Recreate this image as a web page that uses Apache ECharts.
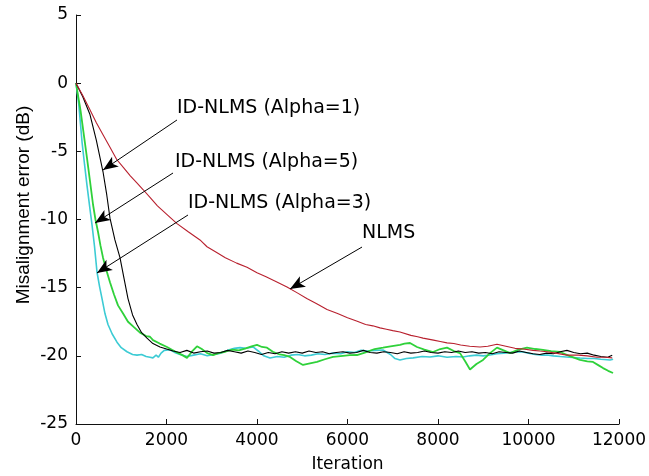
<!DOCTYPE html>
<html><head><meta charset="utf-8">
<script src="https://cdn.jsdelivr.net/npm/echarts@6/dist/echarts.min.js"></script>
<style>html,body{margin:0;padding:0;background:#fff}#c{width:649px;height:476px}</style>
</head><body><div id="c"></div>
<script>
// ---- Data (x = iteration, y = misalignment error in dB) ----
const xTicks = [0, 2000, 4000, 6000, 8000, 10000, 12000];
const yTicks = [-25, -20, -15, -10, -5, 0, 5];

const alpha3 = [[0,0],[60,-1.5],[133,-4.3],[190,-6.0],[243,-7.5],[300,-9.0],[354,-10.4],[410,-12.0],[464,-13.85],[520,-14.9],[575,-15.8],[640,-16.9],[707,-17.7],[800,-18.4],[906,-19.0],[1000,-19.4],[1127,-19.7],[1250,-19.9],[1348,-19.95],[1450,-19.9],[1550,-20.05],[1635,-20.1],[1700,-20.15],[1770,-19.95],[1820,-20.1],[1880,-19.8],[1950,-19.6],[2077,-19.55],[2180,-19.75],[2300,-19.9],[2450,-20.05],[2600,-19.95],[2750,-19.85],[2900,-20.0],[3050,-19.9],[3200,-19.8],[3350,-19.6],[3500,-19.45],[3624,-19.4],[3750,-19.45],[3912,-19.35],[4050,-19.7],[4150,-20.0],[4287,-20.16],[4450,-20.05],[4600,-20.1],[4750,-19.95],[4900,-19.9],[5050,-20.0],[5200,-19.95],[5350,-19.85],[5500,-19.9],[5680,-19.8],[5850,-19.85],[6000,-19.7],[6150,-19.75],[6300,-19.6],[6450,-19.65],[6600,-19.6],[6785,-19.57],[6950,-19.9],[7050,-20.2],[7160,-20.3],[7300,-20.2],[7450,-20.15],[7650,-20.05],[7823,-20.08],[8000,-20.0],[8200,-20.1],[8400,-20.05],[8553,-20.08],[8700,-20.0],[8850,-19.95],[9000,-20.0],[9150,-19.94],[9300,-19.85],[9450,-19.8],[9600,-19.75],[9750,-19.7],[9879,-19.72],[10000,-19.8],[10150,-19.9],[10300,-19.95],[10409,-19.94],[10550,-20.0],[10700,-20.05],[10900,-20.1],[11138,-20.16],[11300,-20.2],[11450,-20.2],[11600,-20.25],[11801,-20.3],[11870,-20.25]];

const alpha5 = [[0,0],[100,-2.0],[243,-5.5],[310,-7.2],[376,-8.9],[430,-10.0],[486,-10.9],[540,-11.9],[597,-12.8],[670,-13.7],[751,-14.6],[840,-15.5],[928,-16.3],[1040,-16.9],[1149,-17.5],[1280,-17.9],[1414,-18.3],[1550,-18.55],[1635,-18.6],[1701,-18.85],[1850,-19.1],[2011,-19.35],[2120,-19.55],[2232,-19.75],[2350,-19.95],[2453,-20.15],[2560,-19.7],[2674,-19.3],[2780,-19.5],[2900,-19.8],[3028,-19.95],[3150,-19.8],[3300,-19.7],[3450,-19.55],[3600,-19.6],[3750,-19.45],[3880,-19.3],[4000,-19.2],[4110,-19.35],[4221,-19.4],[4350,-19.7],[4500,-19.9],[4600,-19.95],[4729,-20.08],[4870,-20.4],[5017,-20.67],[5170,-20.55],[5326,-20.45],[5500,-20.25],[5680,-20.08],[5900,-20.0],[6050,-19.95],[6210,-19.94],[6400,-19.75],[6600,-19.5],[6785,-19.4],[6950,-19.3],[7160,-19.2],[7260,-19.1],[7381,-19.06],[7536,-19.35],[7700,-19.55],[7890,-19.72],[8050,-19.5],[8199,-19.4],[8350,-19.65],[8486,-19.8],[8600,-20.4],[8707,-21.0],[8850,-20.6],[8995,-20.3],[9150,-19.8],[9304,-19.4],[9450,-19.6],[9591,-19.8],[9780,-19.55],[9967,-19.4],[10150,-19.5],[10321,-19.57],[10500,-19.65],[10696,-19.72],[10900,-20.0],[11138,-20.3],[11300,-20.4],[11426,-20.45],[11550,-20.7],[11647,-20.9],[11760,-21.1],[11868,-21.26]];

const alpha1 = [[0,0],[150,-1.0],[309,-2.3],[450,-4.2],[597,-6.5],[680,-8.2],[751,-9.9],[860,-11.5],[972,-12.8],[1060,-14.3],[1149,-15.8],[1250,-17.0],[1348,-17.7],[1450,-18.3],[1569,-18.7],[1700,-19.1],[1856,-19.35],[2000,-19.5],[2144,-19.65],[2300,-19.75],[2450,-19.6],[2600,-19.8],[2750,-19.7],[2900,-19.65],[3050,-19.8],[3200,-19.75],[3350,-19.6],[3500,-19.7],[3650,-19.8],[3800,-19.65],[3950,-19.75],[4100,-19.9],[4250,-19.75],[4400,-19.85],[4550,-19.7],[4700,-19.8],[4850,-19.7],[5000,-19.8],[5150,-19.65],[5300,-19.75],[5450,-19.7],[5600,-19.85],[5750,-19.75],[5900,-19.7],[6050,-19.8],[6200,-19.75],[6350,-19.6],[6500,-19.75],[6650,-19.8],[6800,-19.7],[6950,-19.75],[7100,-19.85],[7250,-19.7],[7400,-19.8],[7550,-19.75],[7700,-19.65],[7850,-19.75],[8000,-19.8],[8150,-19.7],[8300,-19.75],[8450,-19.65],[8600,-19.75],[8750,-19.7],[8900,-19.8],[9050,-19.75],[9200,-19.85],[9350,-19.7],[9500,-19.75],[9650,-19.8],[9800,-19.65],[9950,-19.75],[10100,-19.85],[10250,-19.9],[10400,-19.8],[10550,-19.85],[10700,-19.7],[10850,-19.6],[11000,-19.75],[11150,-19.85],[11300,-19.8],[11450,-19.95],[11600,-20.05],[11750,-20.1],[11850,-19.95]];

const nlms = [[0,0],[150,-0.9],[300,-1.9],[450,-2.9],[600,-3.8],[751,-4.7],[900,-5.6],[1050,-6.2],[1200,-6.8],[1340,-7.3],[1481,-7.8],[1640,-8.4],[1800,-9.0],[2000,-9.6],[2232,-10.3],[2480,-10.9],[2740,-11.5],[2895,-12.0],[3100,-12.4],[3300,-12.8],[3550,-13.2],[3779,-13.5],[4000,-13.9],[4200,-14.2],[4450,-14.6],[4663,-14.95],[4900,-15.4],[5100,-15.8],[5330,-16.2],[5547,-16.6],[5780,-16.9],[6000,-17.2],[6200,-17.45],[6400,-17.7],[6560,-17.8],[6718,-17.95],[6860,-18.05],[7000,-18.15],[7160,-18.25],[7400,-18.5],[7550,-18.6],[7669,-18.7],[7900,-18.85],[8050,-18.95],[8199,-19.05],[8350,-19.1],[8500,-19.2],[8700,-19.3],[8928,-19.35],[9100,-19.3],[9304,-19.15],[9500,-19.3],[9700,-19.45],[9879,-19.5],[10100,-19.6],[10250,-19.65],[10409,-19.7],[10600,-19.8],[10851,-19.95],[11100,-19.95],[11300,-20.0],[11514,-20.1],[11700,-20.1],[11850,-20.15]];

// annotations: text, text anchor (data), arrow start (data), arrow tip (data)
const annTexts = ['ID-NLMS (Alpha=1)', 'ID-NLMS (Alpha=5)', 'ID-NLMS (Alpha=3)', 'NLMS'];
const annTextAt = [[2232,-1.82],[2188,-5.78],[2475,-8.79],[6321,-10.99]];
const annFrom = [[2232,-2.70],[2144,-6.59],[2475,-9.67],[6321,-12.02]];
const annTo = [[597,-6.37],[420,-10.26],[464,-13.92],[4729,-15.1]];

const FONT = 'DejaVu Sans';
const chart = echarts.init(document.getElementById('c'), null, {renderer: 'canvas'});
const lineSeries = (data, color, w) => ({
  type: 'line', data: data, showSymbol: false, symbol: 'none', smooth: false,
  lineStyle: {color: color, width: w}, animation: false, silent: true, z: 2
});
chart.setOption({
  animation: false,
  backgroundColor: '#fff',
  grid: {left: 76, right: 30, top: 15, bottom: 52, containLabel: false, outerBoundsMode: 'none'},
  xAxis: {
    type: 'value', min: xTicks[0], max: xTicks[xTicks.length-1], interval: 2000,
    axisLine: {show: true, onZero: false, lineStyle: {color: '#111', width: 1}},
    axisTick: {show: true, inside: true, length: 5, lineStyle: {color: '#111'}},
    splitLine: {show: false},
    axisLabel: {color: '#000', fontFamily: FONT, fontSize: 17, margin: 8, formatter: v => String(v)},
    name: 'Iteration', nameLocation: 'middle', nameGap: 32,
    nameTextStyle: {color: '#000', fontFamily: FONT, fontSize: 17}
  },
  yAxis: {
    type: 'value', min: yTicks[0], max: yTicks[yTicks.length-1], interval: 5,
    axisLine: {show: true, onZero: false, lineStyle: {color: '#111', width: 1}},
    axisTick: {show: true, inside: true, length: 5, lineStyle: {color: '#111'}},
    splitLine: {show: false},
    axisLabel: {color: '#000', fontFamily: FONT, fontSize: 17, margin: 8, formatter: v => String(v)}
  },
  series: [
    lineSeries(alpha3, '#3ccbd4', 1.6),
    lineSeries(alpha5, '#2fd13a', 1.8),
    lineSeries(alpha1, '#000000', 1.1),
    lineSeries(nlms, '#b8202e', 1.1),
    {
      type: 'line', data: [], silent: true, z: 5,
      markLine: {
        silent: true, animation: false, symbol: ['none', 'arrow'], symbolSize: [9, 15],
        lineStyle: {color: '#000', width: 1, type: 'solid'},
        label: {show: false},
        data: annFrom.map((f, i) => [{coord: f}, {coord: annTo[i]}])
      }
    }
  ]
});
// annotation texts and y-axis title, placed from data coordinates through the chart's own scales
const texts = annTexts.map((t, i) => {
  const p = chart.convertToPixel({gridIndex: 0}, annTextAt[i]);
  return {type: 'text', x: p[0], y: p[1], z: 10, silent: true,
    style: {text: t, fill: '#000', font: '19px "DejaVu Sans"', align: 'left', verticalAlign: 'middle'}};
});
texts.push({
  type: 'text', x: 24, y: 205, rotation: Math.PI / 2, silent: true,
  style: {text: 'Misalignment error (dB)', fill: '#000', font: '19px "Liberation Sans"', align: 'center', verticalAlign: 'middle'}
});
chart.setOption({graphic: texts});
</script></body></html>
